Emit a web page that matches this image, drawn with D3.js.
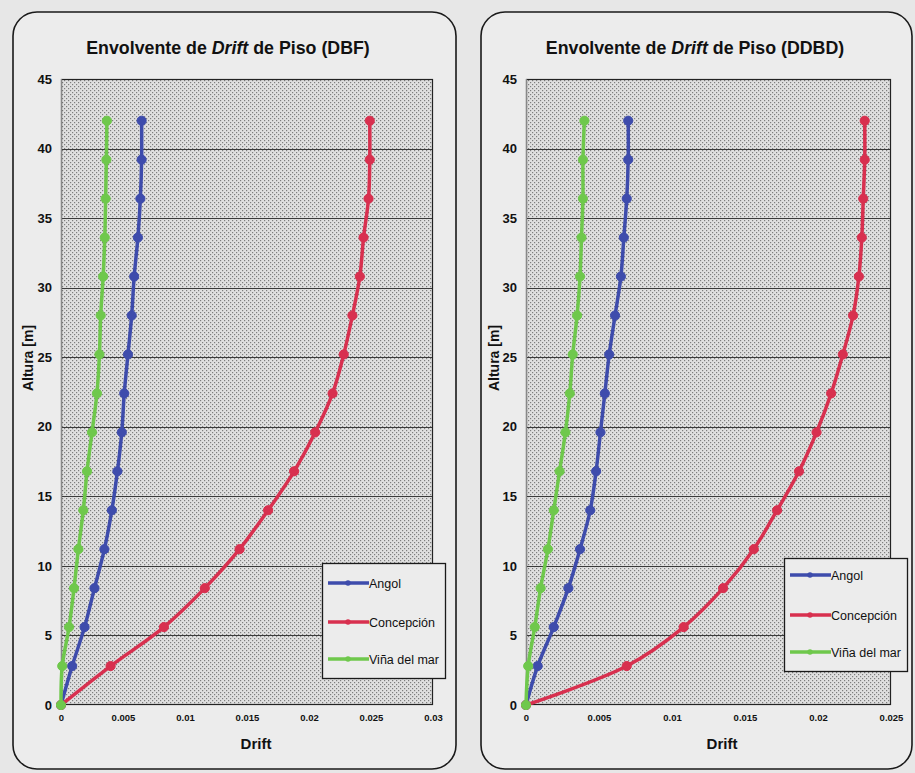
<!DOCTYPE html>
<html>
<head>
<meta charset="utf-8">
<script src="https://cdn.jsdelivr.net/npm/d3@7"></script>
<style>
  html, body { margin: 0; padding: 0; background: #e7e7e7; }
  svg { display: block; }
  text { font-family: "Liberation Sans", Arial, sans-serif; }
</style>
</head>
<body>
<svg id="chart" width="915" height="773"></svg>
<script>
// ---------------- DATA ----------------
const heights = [0, 2.8, 5.6, 8.4, 11.2, 14, 16.8, 19.6, 22.4, 25.2, 28, 30.8, 33.6, 36.4, 39.2, 42];
const seriesNames = ["Angol", "Concepción", "Viña del mar"];

// DBF panel
const dbfAngol       = [0, 0.0009, 0.0019, 0.0027, 0.0035, 0.0041, 0.00455, 0.0049, 0.0051, 0.0054, 0.0057, 0.0059, 0.0062, 0.0064, 0.0065, 0.0065];
const dbfConcepcion  = [0, 0.0040, 0.0083, 0.0116, 0.0144, 0.0167, 0.0188, 0.0205, 0.0219, 0.0228, 0.0235, 0.0241, 0.0244, 0.0248, 0.0249, 0.0249];
const dbfVina        = [0, 0.0001, 0.00065, 0.00105, 0.0014, 0.0018, 0.0021, 0.0025, 0.0029, 0.0031, 0.0032, 0.0034, 0.00353, 0.0036, 0.00366, 0.0037];

// DDBD panel
const ddbdAngol      = [0, 0.0008, 0.0019, 0.0029, 0.0037, 0.0044, 0.0048, 0.0051, 0.0054, 0.0057, 0.0061, 0.0065, 0.0067, 0.0069, 0.0070, 0.0070];
const ddbdConcepcion = [0, 0.0069, 0.0108, 0.0135, 0.0156, 0.0172, 0.0187, 0.0199, 0.0209, 0.0217, 0.0224, 0.0228, 0.0230, 0.0231, 0.0232, 0.0232];
const ddbdVina       = [0, 0.00015, 0.0006, 0.0010, 0.0015, 0.0019, 0.0023, 0.0027, 0.0030, 0.0032, 0.0035, 0.0037, 0.0038, 0.0039, 0.0039, 0.0040];

const yTicks      = [0, 5, 10, 15, 20, 25, 30, 35, 40, 45];
const xTicksDBF   = [0, 0.005, 0.01, 0.015, 0.02, 0.025, 0.03];
const xTicksDDBD  = [0, 0.005, 0.01, 0.015, 0.02, 0.025];

const colors = ["#3e4cac", "#d8304f", "#6fc84c"];

// ---------------- DRAW ----------------
const svg = d3.select("#chart");
const defs = svg.append("defs");
const pat = defs.append("pattern").attr("id", "dots").attr("patternUnits", "userSpaceOnUse")
  .attr("width", 4).attr("height", 4);
pat.append("rect").attr("width", 4).attr("height", 4).attr("fill", "#e0e0e0");
pat.append("rect").attr("x", 0).attr("y", 0).attr("width", 1.2).attr("height", 1.2).attr("fill", "#7e7e7e");
pat.append("rect").attr("x", 2).attr("y", 2).attr("width", 1.2).attr("height", 1.2).attr("fill", "#7e7e7e");

const panels = [
  {
    box: {x: 13, y: 12, w: 443, h: 757},
    title: "(DBF)", titleX: 228,
    plot: {x0: 61, x1: 433, y0: 705, y1: 79},
    xMax: 0.03, xTicks: xTicksDBF,
    series: [dbfAngol, dbfConcepcion, dbfVina],
    legend: {x: 322, y: 563, w: 123, h: 115, rows: [583, 622, 659]},
    yTitle: {x: 33, y: 358},
    xTitle: {x: 256, y: 749},
    yLabelX: 52
  },
  {
    box: {x: 481, y: 12, w: 431, h: 757},
    title: "(DDBD)", titleX: 695,
    plot: {x0: 526, x1: 891, y0: 705, y1: 79},
    xMax: 0.025, xTicks: xTicksDDBD,
    series: [ddbdAngol, ddbdConcepcion, ddbdVina],
    legend: {x: 784, y: 558, w: 123, h: 113, rows: [575, 615, 652]},
    yTitle: {x: 499, y: 358},
    xTitle: {x: 722, y: 749},
    yLabelX: 517
  }
];

panels.forEach(p => {
  const g = svg.append("g");
  g.append("rect").attr("x", p.box.x).attr("y", p.box.y).attr("width", p.box.w).attr("height", p.box.h)
    .attr("rx", 24).attr("ry", 24).attr("fill", "#ececec").attr("stroke", "#1a1a1a").attr("stroke-width", 1.6);

  // title
  const t = g.append("text").attr("x", p.titleX).attr("y", 54).attr("text-anchor", "middle")
    .attr("font-size", 17.8).attr("font-weight", "bold").attr("fill", "#111");
  t.append("tspan").text("Envolvente de ");
  t.append("tspan").attr("font-style", "italic").text("Drift");
  t.append("tspan").text(" de Piso " + p.title);

  const x = d3.scaleLinear().domain([0, p.xMax]).range([p.plot.x0, p.plot.x1]);
  const y = d3.scaleLinear().domain([0, 45]).range([p.plot.y0, p.plot.y1]);

  // plot area
  g.append("rect").attr("x", p.plot.x0).attr("y", p.plot.y1)
    .attr("width", p.plot.x1 - p.plot.x0).attr("height", p.plot.y0 - p.plot.y1)
    .attr("fill", "url(#dots)");

  // gridlines
  g.append("g").selectAll("line").data(yTicks.filter(d => d > 0 && d < 45)).join("line")
    .attr("x1", p.plot.x0).attr("x2", p.plot.x1)
    .attr("y1", d => Math.round(y(d)) + 0.5).attr("y2", d => Math.round(y(d)) + 0.5)
    .attr("stroke", "#3a3a3a").attr("stroke-width", 1);

  // border
  g.append("rect").attr("x", p.plot.x0 + 0.5).attr("y", p.plot.y1 + 0.5)
    .attr("width", p.plot.x1 - p.plot.x0 - 1).attr("height", p.plot.y0 - p.plot.y1 - 1)
    .attr("fill", "none").attr("stroke", "#222").attr("stroke-width", 1.2);
  g.append("line").attr("x1", p.plot.x0 + 0.5).attr("x2", p.plot.x0 + 0.5)
    .attr("y1", p.plot.y1).attr("y2", p.plot.y0).attr("stroke", "#888").attr("stroke-width", 1.2);

  // y axis
  const yAxis = d3.axisLeft(y).tickValues(yTicks).tickSize(0).tickPadding(0).tickFormat(d3.format("d"));
  const ya = g.append("g").attr("transform", `translate(${p.yLabelX},0)`).call(yAxis);
  ya.select(".domain").remove();
  ya.selectAll("text").attr("font-size", 13).attr("font-weight", "bold").attr("fill", "#111")
    .attr("font-family", "Liberation Sans, Arial, sans-serif");

  // x axis
  const xAxis = d3.axisBottom(x).tickValues(p.xTicks).tickSize(0).tickPadding(0).tickFormat(d3.format("~g"));
  const xa = g.append("g").attr("transform", `translate(0,${p.plot.y0 + 9})`).call(xAxis);
  xa.select(".domain").remove();
  xa.selectAll("text").attr("font-size", 9.5).attr("font-weight", "bold").attr("fill", "#111")
    .attr("font-family", "Liberation Sans, Arial, sans-serif");

  // axis titles
  g.append("text").attr("x", p.xTitle.x).attr("y", p.xTitle.y).attr("text-anchor", "middle")
    .attr("font-size", 15).attr("font-weight", "bold").attr("fill", "#111").text("Drift");
  g.append("text").attr("transform", `translate(${p.yTitle.x},${p.yTitle.y}) rotate(-90)`)
    .attr("text-anchor", "middle").attr("font-size", 14).attr("font-weight", "bold").attr("fill", "#111")
    .text("Altura [m]");

  // series
  const line = d3.line().curve(d3.curveCatmullRom.alpha(0.5)).x(d => x(d[0])).y(d => y(d[1]));
  const sym = d3.symbol().type(d3.symbolCircle).size(66);
  p.series.forEach((vals, i) => {
    const pts = vals.map((v, k) => [v, heights[k]]);
    g.append("path").datum(pts).attr("d", line).attr("fill", "none")
      .attr("stroke", colors[i]).attr("stroke-width", 3.5).attr("stroke-linejoin", "round");
    g.append("g").selectAll("path").data(pts).join("path")
      .attr("transform", d => `translate(${x(d[0])},${y(d[1])})`)
      .attr("d", sym).attr("fill", colors[i]).attr("stroke", colors[i]).attr("stroke-width", 1);
  });

  // legend
  const L = p.legend;
  g.append("rect").attr("x", L.x + 0.5).attr("y", L.y + 0.5).attr("width", L.w).attr("height", L.h)
    .attr("fill", "#ececec").attr("stroke", "#1a1a1a").attr("stroke-width", 1.3);
  seriesNames.forEach((name, i) => {
    const ry = L.rows[i];
    g.append("line").attr("x1", L.x + 6).attr("x2", L.x + 47).attr("y1", ry).attr("y2", ry)
      .attr("stroke", colors[i]).attr("stroke-width", 3.5);
    g.append("path").attr("transform", `translate(${L.x + 26},${ry})`)
      .attr("d", d3.symbol().type(d3.symbolCircle).size(24)).attr("fill", colors[i]);
    g.append("text").attr("x", L.x + 47).attr("y", ry + 4.5).attr("font-size", 12.5).attr("fill", "#111")
      .text(name);
  });
});
</script>
</body>
</html>
